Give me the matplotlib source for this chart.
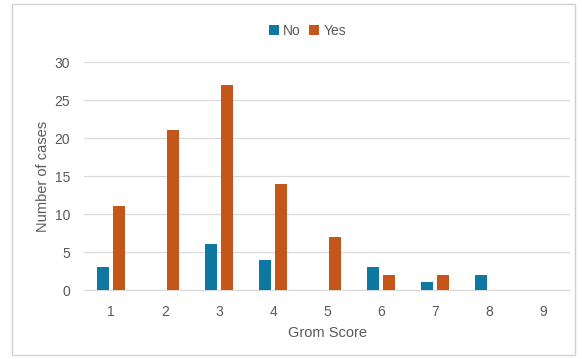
import matplotlib.pyplot as plt
from matplotlib.patches import Rectangle
import numpy as np

scores = ["1", "2", "3", "4", "5", "6", "7", "8", "9"]
no_counts = [3, 0, 6, 4, 0, 3, 1, 2, 0]
yes_counts = [11, 21, 27, 14, 7, 2, 2, 0, 0]
y_ticks = [0, 5, 10, 15, 20, 25, 30]

BLUE = "#0E77A2"
ORANGE = "#C4561A"
TEXT = "#595959"
GRID = "#D9D9D9"

plt.rcParams['font.family'] = ['Liberation Sans', 'DejaVu Sans']

fig = plt.figure(figsize=(5.82, 3.59), dpi=100)
# light frame round the whole chart
fig.patches.append(Rectangle((12 / 582, 4 / 359), 563 / 582, 351 / 359,
                             transform=fig.transFigure, fill=False,
                             edgecolor="#D0D0D0", linewidth=1))

ax = fig.add_axes([84 / 582, 69 / 359, 486 / 582, 228 / 359])

x = np.arange(len(scores))
w = 0.22
ax.bar(x - 0.15, no_counts, w, color=BLUE, label="No", zorder=3)
ax.bar(x + 0.15, yes_counts, w, color=ORANGE, label="Yes", zorder=3)

ax.set_xlim(-0.5, len(scores) - 0.5)
ax.set_ylim(0, 30)
ax.set_yticks(y_ticks)
ax.set_xticks(x)
ax.set_xticklabels(scores)
ax.yaxis.grid(True, color=GRID, linewidth=0.9, zorder=0)
ax.tick_params(length=0, colors=TEXT, labelsize=10)
ax.tick_params(axis='y', pad=10)
ax.tick_params(axis='x', pad=11)
for side in ["top", "right", "left"]:
    ax.spines[side].set_visible(False)
ax.spines["bottom"].set_color(GRID)

ax.set_xlabel("Grom Score", color=TEXT, fontsize=10.5, labelpad=5)
ax.set_ylabel("Number of cases", color=TEXT, fontsize=10.5, labelpad=3)

ax.legend(loc="lower center", bbox_to_anchor=(0.46, 1.05), ncol=2, frameon=False,
          fontsize=10, labelcolor=TEXT, handlelength=0.7, handleheight=0.7,
          columnspacing=0.6, handletextpad=0.3)

fig.savefig("out.png", dpi=100)
